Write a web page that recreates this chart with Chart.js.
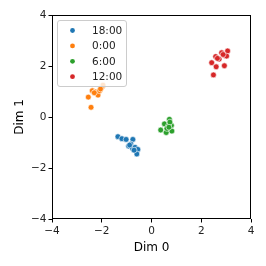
<!DOCTYPE html>
<html><head><meta charset="utf-8">
<script src="https://cdn.jsdelivr.net/npm/chart.js@4/dist/chart.umd.min.js"></script>
<style>html,body{margin:0;padding:0;background:#fff}#w{width:266px;height:266px}</style>
</head><body><div id="w"><canvas id="c" width="266" height="266"></canvas></div>
<script>
const seriesNames = ['18:00', '0:00', '6:00', '12:00'];
const seriesColors = ['#1f77b4', '#ff7f0e', '#2ca02c', '#d62728'];
const x1800 = [-1.35, -1.19, -1.02, -0.75, -0.92, -0.83, -0.76, -0.66, -0.55, -0.59, -0.88, -0.70];
const y1800 = [-0.77, -0.85, -0.88, -0.88, -1.14, -1.06, -1.24, -1.19, -1.27, -1.45, -1.10, -1.30];
const x0000 = [-2.54, -2.43, -2.38, -2.25, -2.15, -2.09, -1.99, -1.95, -2.30, -2.05];
const y0000 = [0.78, 0.38, 1.03, 0.98, 0.86, 1.03, 1.19, 1.25, 0.95, 1.10];
const x0600 = [0.37, 0.52, 0.59, 0.72, 0.80, 0.82, 0.68, 0.74, 0.62, 0.70];
const y0600 = [-0.51, -0.27, -0.61, -0.09, -0.33, -0.55, -0.35, -0.20, -0.45, -0.40];
const x1200 = [2.42, 2.49, 2.60, 2.58, 2.72, 2.82, 2.93, 2.96, 3.06, 3.02, 2.88, 2.65];
const y1200 = [2.13, 1.65, 1.97, 2.37, 2.27, 2.52, 2.01, 2.41, 2.59, 2.39, 2.45, 2.30];
const xTicks = [-4, -2, 0, 2, 4];
const yTicks = [-4, -2, 0, 2, 4];
const xs = [x1800, x0000, x0600, x1200];
const ys = [y1800, y0000, y0600, y1200];

const datasets = seriesNames.map((n, i) => ({
  label: n,
  data: xs[i].map((v, j) => ({x: v, y: ys[i][j]})),
  backgroundColor: seriesColors[i],
  borderColor: '#ffffff',
  borderWidth: 0.6,
  pointRadius: 2.9,
  pointHoverRadius: 2.9
}));

const FONT = 'DejaVu Sans';
const fmt = v => String(v).replace('-', '\u2212');

const framePlugin = {
  id: 'frame',
  afterDraw(chart) {
    const ctx = chart.ctx, a = chart.chartArea;
    ctx.save();
    ctx.strokeStyle = '#000'; ctx.lineWidth = 1;
    ctx.strokeRect(Math.round(a.left) + 0.5, Math.round(a.top) + 0.5,
      Math.round(a.right - a.left) - 1, Math.round(a.bottom - a.top) - 1);
    // legend
    const lx = a.left + 5, ly = a.top + 5, lw = 69, lh = 66;
    ctx.fillStyle = 'rgba(255,255,255,0.8)';
    ctx.strokeStyle = '#cccccc';
    ctx.lineWidth = 1;
    ctx.beginPath();
    ctx.roundRect(lx + 0.5, ly + 0.5, lw, lh, 2.5);
    ctx.fill(); ctx.stroke();
    ctx.font = '10.5px ' + FONT;
    ctx.textBaseline = 'middle';
    ctx.textAlign = 'left';
    seriesNames.forEach((n, i) => {
      const cy = ly + 10.5 + i * 15.4;
      ctx.beginPath();
      ctx.arc(lx + 15.5, cy, 2.4, 0, Math.PI * 2);
      ctx.fillStyle = seriesColors[i];
      ctx.fill();
      ctx.fillStyle = '#222';
      ctx.fillText(n, lx + 35, cy + 0.5);
    });
    ctx.restore();
  }
};

new Chart(document.getElementById('c'), {
  type: 'scatter',
  data: {datasets},
  options: {
    responsive: false,
    animation: false,
    devicePixelRatio: 1,
    layout: {padding: {left: 0, right: 15, top: 15, bottom: 0}},
    plugins: {legend: {display: false}, tooltip: {enabled: false}},
    scales: {
      x: {
        type: 'linear', min: -4, max: 4,
        afterBuildTicks: s => { s.ticks = xTicks.map(v => ({value: v})); },
        afterFit: s => { s.height = 47; },
        ticks: {font: {family: FONT, size: 10.5}, color: '#222', padding: 2, maxRotation: 0, callback: fmt},
        grid: {display: true, drawOnChartArea: false, drawTicks: true, tickLength: 3.5, color: '#000', tickColor: '#000'},
        border: {display: false},
        title: {display: true, text: 'Dim 0', font: {family: FONT, size: 12}, color: '#000', padding: {top: 2, bottom: 11}}
      },
      y: {
        type: 'linear', min: -4, max: 4,
        afterBuildTicks: s => { s.ticks = yTicks.map(v => ({value: v})); },
        afterFit: s => { s.width = 52; },
        ticks: {font: {family: FONT, size: 10.5}, color: '#222', padding: 2, callback: fmt},
        grid: {display: true, drawOnChartArea: false, drawTicks: true, tickLength: 3.5, color: '#000', tickColor: '#000'},
        border: {display: false},
        title: {display: true, text: 'Dim 1', font: {family: FONT, size: 12}, color: '#000', padding: {top: 13, bottom: 4}}
      }
    }
  },
  plugins: [framePlugin]
});
</script></body></html>
